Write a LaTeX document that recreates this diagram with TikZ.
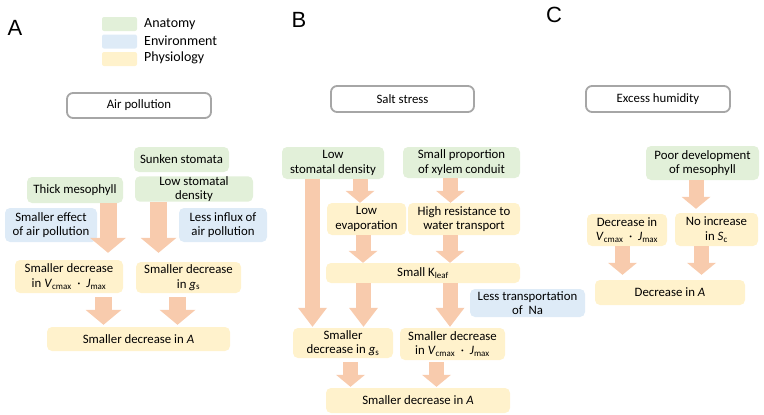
\documentclass[tikz,border=0pt]{standalone}
\usepackage{fontspec}
\setmainfont{Carlito}
\newfontfamily\letterfont{Liberation Sans}
\usetikzlibrary{arrows.meta}
\definecolor{anat}{HTML}{E2F0D9}
\definecolor{envi}{HTML}{DEEBF7}
\definecolor{phys}{HTML}{FFF2CC}
\definecolor{arr}{HTML}{F8CBAD}
\definecolor{framec}{HTML}{A6A6A6}
\newcommand{\VJ}{\textit{V}\textsubscript{cmax}\ \ ·\ \ \textit{J}\textsubscript{max}}
\begin{document}
\begin{tikzpicture}[x=1pt,y=-1pt,
  box/.style={rounded corners=5pt, inner sep=0pt, align=center, font=\fontsize{12.8}{14.5}\selectfont},
  ana/.style={box, fill=anat},
  env/.style={box, fill=envi},
  phy/.style={box, fill=phys},
  headbox/.style={box, draw=framec, line width=1.8pt, fill=white, rounded corners=6pt},
  legbox/.style={rounded corners=2pt, minimum width=35pt, minimum height=14pt, inner sep=0pt},
  legtext/.style={anchor=west, inner sep=0pt, font=\fontsize{14}{16}\selectfont},
  letter/.style={inner sep=0pt, font=\letterfont\fontsize{22}{24}\selectfont},
  blkA/.style={draw=arr, line width=17pt, -{Triangle[width=36pt,length=15pt,line width=0pt]}},
  blkB/.style={draw=arr, line width=15pt, -{Triangle[width=29pt,length=12pt,line width=0pt]}},
  blkL/.style={draw=arr, line width=15pt, -{Triangle[width=29pt,length=19pt,line width=0pt]}}
]
\useasboundingbox (0,0) rectangle (764,415);

% letters
\node[letter] (la) at (15,28) {A};
\node[letter] (lb) at (299,20) {B};
\node[letter] (lc) at (554,15) {C};

% legend
\node[legbox, fill=anat] (lg1) at (119.5,24) {};
\node[legbox, fill=envi] (lg2) at (119.5,41.5) {};
\node[legbox, fill=phys] (lg3) at (119.5,59) {};
\node[legtext] (lt1) at (144,24) {Anatomy};
\node[legtext] (lt2) at (144,41) {Environment};
\node[legtext] (lt3) at (144,58) {Physiology};

% ---------- A ----------
\node[headbox, minimum width=144pt, minimum height=25pt] (air) at (139,105.5) {Air pollution};
\node[ana, minimum width=95pt, minimum height=25pt] (sunk) at (181.5,159.5) {Sunken stomata};
\node[ana, minimum width=96pt, minimum height=26pt] (thick) at (75,190) {Thick mesophyll};
\node[ana, minimum width=118pt, minimum height=24pt] (lsdA) at (194,189) {Low stomatal\\density};
\node[env, minimum width=92pt, minimum height=34pt] (effA) at (51,225) {Smaller effect\\of air pollution};
\node[env, minimum width=88pt, minimum height=34pt] (influx) at (223,225) {Less influx of\\air pollution};
\node[phy, minimum width=108pt, minimum height=33pt] (vjA) at (69,276.5) {Smaller decrease\\in \VJ};
\node[phy, minimum width=105pt, minimum height=31pt] (gsA) at (188.5,277.5) {Smaller decrease\\in \textit{g}\textsubscript{s}};
\node[phy, minimum width=183pt, minimum height=24pt] (aA) at (138.5,339) {Smaller decrease in \textit{A}};

\draw[blkA] ([xshift=33pt]thick.south) -- ([xshift=39pt,yshift=7pt]vjA.north);
\draw[blkA] ([xshift=-35.5pt]lsdA.south) -- ([xshift=-30pt,yshift=9pt]gsA.north);
\draw[blkA] ([xshift=34.5pt,yshift=-4pt]vjA.south) -- ([xshift=-35pt,yshift=2pt]aA.north);
\draw[blkA] ([xshift=-11pt,yshift=-4pt]gsA.south) -- ([xshift=39pt,yshift=2pt]aA.north);

% ---------- B ----------
\node[headbox, minimum width=143pt, minimum height=26pt] (salt) at (402.5,99) {Salt stress};
\node[ana, minimum width=102pt, minimum height=32pt] (lsdB) at (333,163) {Low\\stomatal density};
\node[ana, minimum width=117pt, minimum height=31pt] (xyl) at (461.5,162.5) {Small proportion\\of xylem conduit};
\node[phy, minimum width=79pt, minimum height=32pt] (evap) at (366.5,219) {Low\\evaporation};
\node[phy, minimum width=112pt, minimum height=32pt] (res) at (464,219) {High resistance to\\water transport};
\node[phy, minimum width=194pt, minimum height=20pt] (kleaf) at (423,273) {Small K\textsubscript{leaf}};
\node[env, minimum width=115pt, minimum height=28pt] (na) at (527.5,303) {Less transportation\\of\ \ Na};
\node[phy, minimum width=100pt, minimum height=30pt] (gsB) at (343,343) {Smaller\\decrease in \textit{g}\textsubscript{s}};
\node[phy, minimum width=105pt, minimum height=32pt] (vjB) at (452.5,344) {Smaller decrease\\in \VJ};
\node[phy, minimum width=184pt, minimum height=25pt] (aB) at (418,400.5) {Smaller decrease in \textit{A}};

\draw[blkL] ([xshift=-20.5pt]lsdB.south) -- ([xshift=-30.5pt,yshift=1pt]gsB.north);
\draw[blkB] ([xshift=27pt]lsdB.south) -- ([xshift=-6.5pt]evap.north);
\draw[blkB] ([xshift=-11pt]xyl.south) -- ([xshift=-13.5pt]res.north);
\draw[blkB] ([xshift=-3.5pt]evap.south) -- ([xshift=-60pt]kleaf.north);
\draw[blkB] ([xshift=-14pt]res.south) -- ([xshift=27pt]kleaf.north);
\draw[blkL] ([xshift=-59.5pt]kleaf.south) -- ([xshift=20.5pt,yshift=1pt]gsB.north);
\draw[blkL] ([xshift=27pt]kleaf.south) -- ([xshift=-2.5pt,yshift=1pt]vjB.north);
\draw[blkB] ([xshift=7.5pt,yshift=-4pt]gsB.south) -- ([xshift=-67.5pt,yshift=1pt]aB.north);
\draw[blkB] ([xshift=-16pt,yshift=-2pt]vjB.south) -- ([xshift=18.5pt,yshift=1pt]aB.north);

% ---------- C ----------
\node[headbox, minimum width=144pt, minimum height=26pt] (hum) at (658,99) {Excess humidity};
\node[ana, minimum width=113pt, minimum height=34pt] (poor) at (702.5,163) {Poor development\\of mesophyll};
\node[phy, minimum width=80pt, minimum height=32pt] (vjC) at (627,230) {Decrease in\\\VJ};
\node[phy, minimum width=83pt, minimum height=33pt] (sc) at (716.5,229.5) {No increase\\in \textit{S}\textsubscript{c}};
\node[phy, minimum width=150pt, minimum height=25pt] (aC) at (670,292.5) {Decrease in \textit{A}};

\draw[blkB] ([xshift=-6.5pt]poor.south) -- ([xshift=-20.5pt,yshift=4pt]sc.north);
\draw[blkB] ([xshift=-4.5pt]vjC.south) -- ([xshift=-47.5pt,yshift=5pt]aC.north);
\draw[blkB] ([xshift=-15pt]sc.south) -- ([xshift=31.5pt,yshift=5pt]aC.north);
\end{tikzpicture}
\end{document}
